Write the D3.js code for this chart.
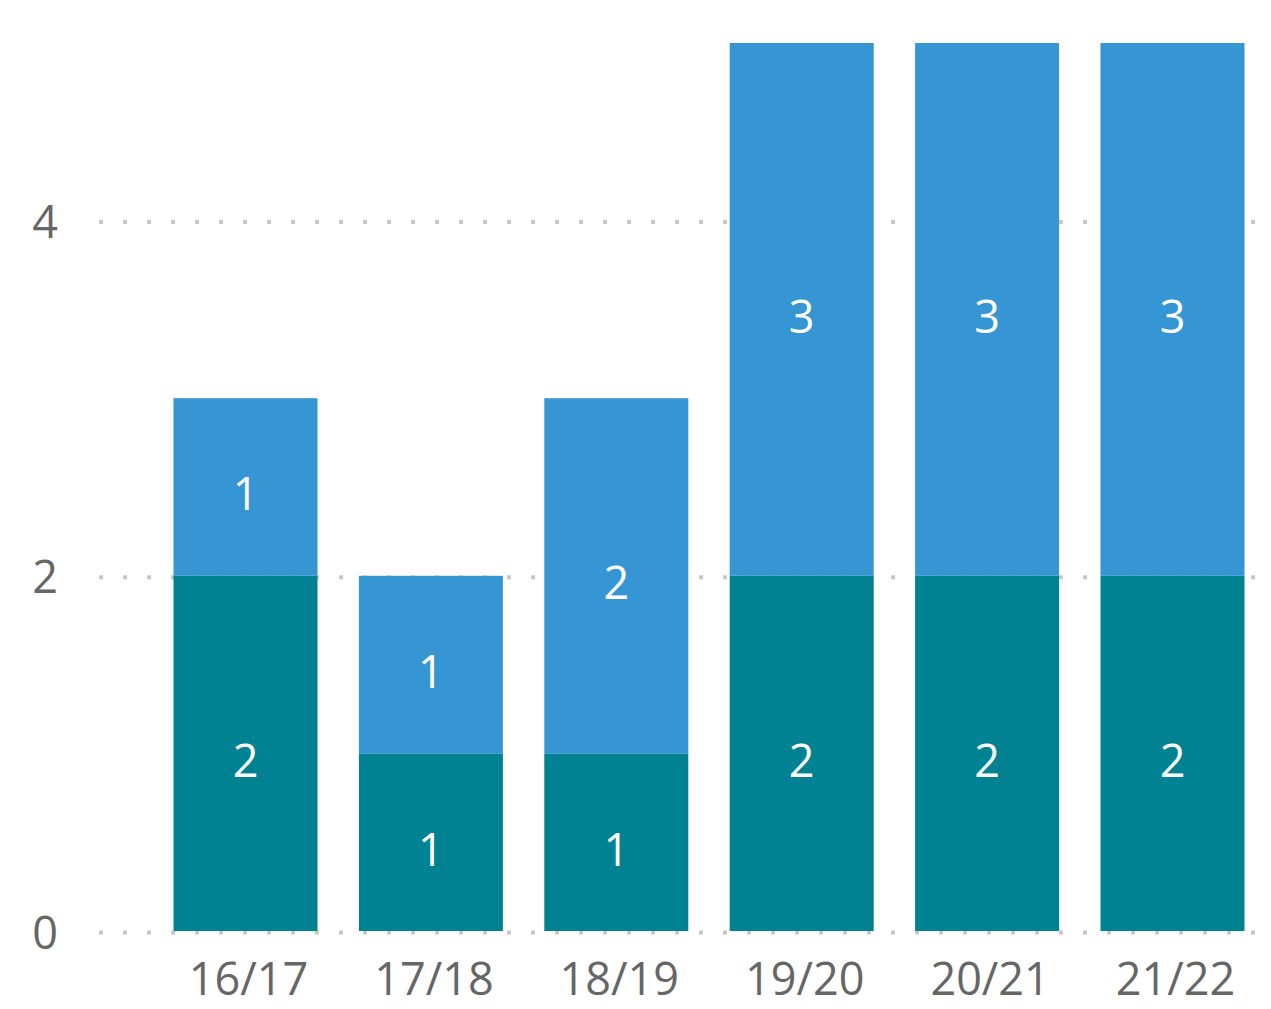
<!DOCTYPE html>
<html><head><meta charset="utf-8">
<script src="https://cdn.jsdelivr.net/npm/d3@7"></script>
<style>body{margin:0;background:#fff}svg{display:block}</style>
</head><body>
<svg id="c" width="1271" height="1009"></svg>
<script>
const categories = ["16/17","17/18","18/19","19/20","20/21","21/22"];
const bottomSeries = [2,1,1,2,2,2];
const topSeries = [1,1,2,3,3,3];
const yTicks = [0,2,4];
const colors = {bottom:"#008292", top:"#3596D3"};

const svg = d3.select("#c");
const font = "'Segoe UI','Open Sans',sans-serif";
const x = d3.scaleBand().domain(categories).range([152.8,1265.2]).paddingInner(0.2233).paddingOuter(0.11165);
const y = d3.scaleLinear().domain([0,5]).range([931,43]);

// gridlines
svg.append("g").selectAll("line").data(yTicks).join("line")
  .attr("x1",99).attr("x2",1257)
  .attr("y1",d=>y(d)+1.5).attr("y2",d=>y(d)+1.5)
  .attr("stroke","#c8c8c8").attr("stroke-width",4).attr("stroke-dasharray","4,20");

const stacked = categories.map((c,i)=>({c, b:bottomSeries[i], t:topSeries[i]}));
const g = svg.append("g");
g.selectAll("rect.b").data(stacked).join("rect").attr("class","b")
  .attr("x",d=>x(d.c)).attr("width",x.bandwidth())
  .attr("y",d=>y(d.b)).attr("height",d=>y(0)-y(d.b)).attr("fill",colors.bottom);
g.selectAll("rect.t").data(stacked).join("rect").attr("class","t")
  .attr("x",d=>x(d.c)).attr("width",x.bandwidth())
  .attr("y",d=>y(d.b+d.t)).attr("height",d=>y(d.b)-y(d.b+d.t)).attr("fill",colors.top);

// labels
const lab = svg.append("g").attr("font-family",font).attr("font-size",45).attr("fill","#fff").attr("text-anchor","middle");
lab.selectAll("text.b").data(stacked).join("text").attr("class","b")
  .attr("x",d=>x(d.c)+x.bandwidth()/2).attr("y",d=>(y(0)+y(d.b))/2).attr("dy","0.52em").text(d=>d.b);
lab.selectAll("text.t").data(stacked).join("text").attr("class","t")
  .attr("x",d=>x(d.c)+x.bandwidth()/2).attr("y",d=>(y(d.b)+y(d.b+d.t))/2).attr("dy","0.52em").text(d=>d.t);

// y axis
const yAxis = d3.axisLeft(y).tickValues(yTicks).tickFormat(d3.format("d")).tickSize(0).tickPadding(0);
const ya = svg.append("g").attr("transform","translate(58,0)").call(yAxis);
ya.select(".domain").remove();
ya.selectAll("text").attr("font-family",font).attr("font-size",45).attr("fill","#666").attr("dy","0.38em");

// x axis
const xAxis = d3.axisBottom(x).tickSize(0).tickPadding(0);
const xa = svg.append("g").attr("transform","translate(3,963)").call(xAxis);
xa.select(".domain").remove();
xa.selectAll("text").attr("font-family",font).attr("font-size",45).attr("fill","#666").attr("dy","0.71em");
</script>
</body></html>
